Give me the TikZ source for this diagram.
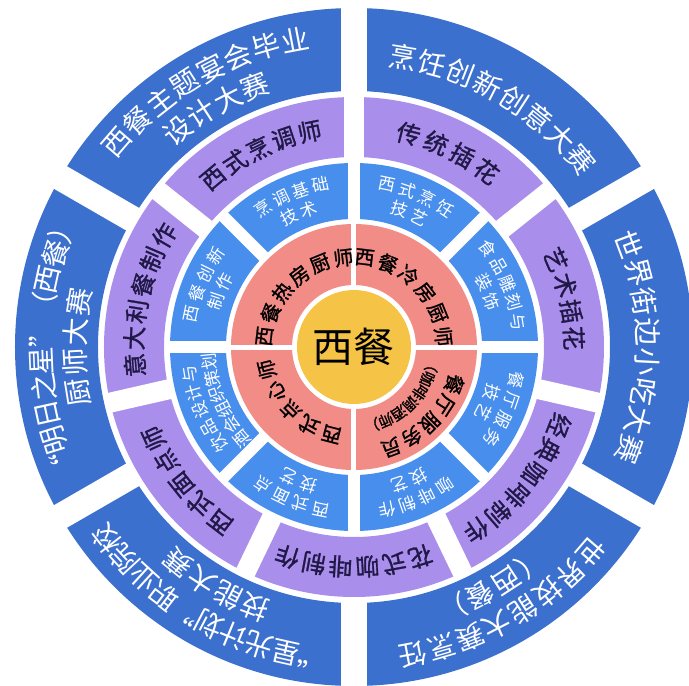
\documentclass[tikz,border=0pt]{standalone}
\usepackage{fontspec}
\newfontfamily\cjk{Noto Sans CJK SC}
\newfontfamily\cjkheavy{Noto Sans CJK SC}[FakeBold=1.2]
\usetikzlibrary{calc}
\definecolor{ringnavy}{RGB}{60,112,206}
\definecolor{ringblue}{RGB}{72,142,236}
\definecolor{ringlilac}{RGB}{170,142,236}
\definecolor{ringsalmon}{RGB}{241,140,134}
\definecolor{hubyellow}{RGB}{245,196,70}
\definecolor{lilacink}{RGB}{32,24,70}

% one line of glyphs set along an arc: name, radius, mid angle, spacing, style, glyphs
\newcommand{\arcword}[6]{%
  \foreach \cj [count=\k] in {#6} {\xdef\nchar{\k}}%
  \foreach \cj [count=\k] in {#6} {%
    \pgfmathsetmacro{\ang}{#3-(\k-(\nchar+1)/2)*#4/#2*180/pi}%
    \node[#5, rotate=\ang-90] (#1-\k) at (\ang:#2) {\cj};
  }%
}

\begin{document}
\begin{tikzpicture}[
    x=1pt, y=1pt,
    navyword/.style={text=white, inner sep=0pt, font=\cjk\fontsize{28}{30}\selectfont},
    lilacword/.style={text=lilacink, inner sep=0pt, font=\cjkheavy\fontsize{24}{26}\selectfont},
    blueword/.style={text=white, inner sep=0pt, font=\cjk\fontsize{17}{19}\selectfont},
    salmonword/.style={text=black, inner sep=0pt, font=\cjkheavy\fontsize{20}{22}\selectfont},
    smallword/.style={text=black, inner sep=0pt, font=\cjkheavy\fontsize{15}{17}\selectfont},
    cutline/.style={white, line width=#1}
]
\useasboundingbox (-354,-339) rectangle (335,347);

% rings
\fill[ringnavy, even odd rule] (0,0) circle (339) (0,0) circle (256);
\fill[ringlilac, even odd rule] (0,0) circle (250) (0,0) circle (190);
\fill[ringblue, even odd rule] (0,0) circle (184) (0,0) circle (128);
\fill[ringsalmon, even odd rule] (0,0) circle (123) (0,0) circle (62);
\fill[hubyellow] (0,0) circle (57);

% gaps between the pieces
\foreach \a in {30,90,...,330} \draw[cutline=26] (\a:252) -- (\a:345);
\foreach \k in {0,...,6} \draw[cutline=20] ({90-\k*360/7}:187) -- ({90-\k*360/7}:253);
\foreach \a in {0,45,...,315} \draw[cutline=12] (\a:125) -- (\a:187);
\foreach \a in {0,90,180,270} \draw[cutline=5] (\a:59) -- (\a:126);

\node[font=\cjk\fontsize{41}{44}\selectfont] (hub) at (0,0) {西餐};

% inner ring
\arcword{hot}{90}{135}{24}{salmonword}{西,餐,热,房,厨,师}
\arcword{cold}{90}{45}{24}{salmonword}{西,餐,冷,房,厨,师}
\arcword{waiter}{107}{-45}{23}{salmonword}{餐,厅,服,务,员}
\arcword{barista}{80}{-45}{15}{smallword}{（,咖,啡,调,酒,师,）}
\arcword{pastry}{90}{-135}{24}{salmonword}{西,式,点,心,师}

% skill ring
\arcword{s1a}{166}{67.5}{21}{blueword}{西,式,烹,饪}
\arcword{s1b}{145}{67.5}{21}{blueword}{技,艺}
\arcword{s2a}{166}{22.5}{20}{blueword}{食,品,雕,刻,与}
\arcword{s2b}{145}{22.5}{21}{blueword}{装,饰}
\arcword{s3a}{166}{-22.5}{21}{blueword}{餐,厅,服,务}
\arcword{s3b}{145}{-22.5}{21}{blueword}{技,艺}
\arcword{s4a}{166}{-67.5}{21}{blueword}{咖,啡,制,作}
\arcword{s4b}{145}{-67.5}{21}{blueword}{技,艺}
\arcword{s5a}{166}{-112.5}{21}{blueword}{西,式,面,点}
\arcword{s5b}{145}{-112.5}{21}{blueword}{技,艺}
\arcword{s6a}{166}{-157.5}{19}{blueword}{饮,品,设,计,与}
\arcword{s6b}{145}{-157.5}{17}{blueword}{酒,会,组,织,策,划}
\arcword{s7a}{166}{157.5}{21}{blueword}{西,餐,创,新}
\arcword{s7b}{145}{157.5}{21}{blueword}{制,作}
\arcword{s8a}{166}{112.5}{21}{blueword}{烹,调,基,础}
\arcword{s8b}{145}{112.5}{21}{blueword}{技,术}

% course ring
\arcword{c1}{220}{64.29}{29}{lilacword}{传,统,插,花}
\arcword{c2}{220}{12.86}{27}{lilacword}{艺,术,插,花}
\arcword{c3}{220}{-38.57}{27}{lilacword}{经,典,咖,啡,制,作}
\arcword{c4}{220}{-90}{27}{lilacword}{花,式,咖,啡,制,作}
\arcword{c5}{220}{-141.43}{27}{lilacword}{西,式,面,点,师}
\arcword{c6}{220}{167.14}{27}{lilacword}{意,大,利,餐,制,作}
\arcword{c7}{220}{115.71}{27}{lilacword}{西,式,烹,调,师}

% contest ring
\arcword{m1a}{313}{120}{30}{navyword}{西,餐,主,题,宴,会,毕,业}
\arcword{m1b}{279}{120}{30}{navyword}{设,计,大,赛}
\arcword{m2}{294}{60}{30}{navyword}{烹,饪,创,新,创,意,大,赛}
\arcword{m3}{294}{0}{30}{navyword}{世,界,街,边,小,吃,大,赛}
\arcword{m4a}{313}{-60}{30}{navyword}{世,界,技,能,大,赛,烹,饪}
\arcword{m4b}{279}{-60}{30}{navyword}{（,西,餐,）}
\arcword{m5a}{313}{-120}{27}{navyword}{“,星,光,计,划,”,职,业,院,校}
\arcword{m5b}{279}{-120}{30}{navyword}{技,能,大,赛}
\arcword{m6a}{313}{180}{27}{navyword}{“,明,日,之,星,”,（,西,餐,）}
\arcword{m6b}{279}{180}{30}{navyword}{厨,师,大,赛}
\end{tikzpicture}
\end{document}
